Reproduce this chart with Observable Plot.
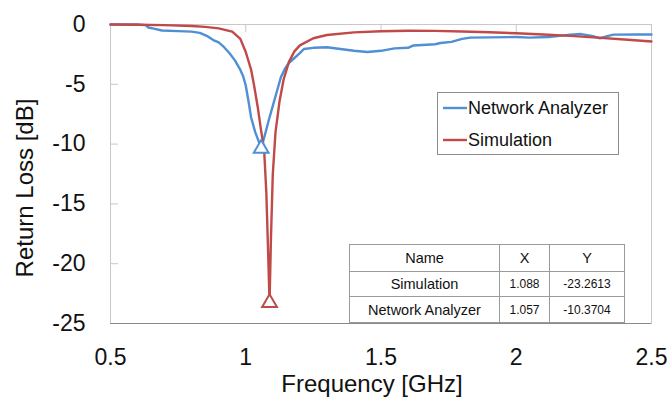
<!DOCTYPE html>
<html>
<head>
<meta charset="utf-8">
<script src="https://cdn.jsdelivr.net/npm/d3@7"></script>
<script src="https://cdn.jsdelivr.net/npm/@observablehq/plot@0.6"></script>
<style>
  html, body { margin: 0; padding: 0; background: #fff; }
  #wrap { position: relative; width: 670px; height: 399px; font-family: "Liberation Sans", Arial, sans-serif; }
  #tbl { position: absolute; left: 349px; top: 244px; border-collapse: collapse; background: #fff; }
  #tbl td { border: 1px solid #9a9a9a; text-align: center; padding: 0; color: #111; }
</style>
</head>
<body>
<div id="wrap"></div>
<script>
// ---- data ----
const xTicks = [0.5, 1, 1.5, 2, 2.5];
const yTicks = [0, -5, -10, -15, -20, -25];

const simFreq = [0.5, 0.6, 0.7, 0.8, 0.85, 0.9, 0.95, 0.98, 1.0, 1.02, 1.03, 1.045, 1.055, 1.068, 1.076, 1.082, 1.088, 1.093, 1.1, 1.11, 1.125, 1.14, 1.16, 1.18, 1.2, 1.25, 1.3, 1.4, 1.5, 1.6, 1.7, 1.8, 1.9, 2.0, 2.1, 2.2, 2.3, 2.4, 2.5];
const simRL   = [0, -0.02, -0.05, -0.12, -0.2, -0.32, -0.6, -1.2, -2.3, -3.8, -5.0, -7.0, -8.6, -10.5, -14.0, -18.5, -23.2613, -18.0, -12.5, -9.0, -6.4, -4.6, -3.1, -2.25, -1.75, -1.15, -0.88, -0.66, -0.56, -0.52, -0.53, -0.58, -0.65, -0.73, -0.83, -0.95, -1.1, -1.26, -1.42];

const naFreq = [0.5, 0.6, 0.63, 0.64, 0.66, 0.69, 0.75, 0.8, 0.83, 0.86, 0.88, 0.9, 0.92, 0.94, 0.96, 0.98, 0.99, 1.0, 1.01, 1.02, 1.035, 1.05, 1.057, 1.07, 1.085, 1.1, 1.115, 1.13, 1.145, 1.16, 1.18, 1.2, 1.215, 1.25, 1.3, 1.35, 1.4, 1.45, 1.5, 1.55, 1.6, 1.62, 1.7, 1.72, 1.76, 1.8, 1.83, 1.9, 2.0, 2.05, 2.12, 2.16, 2.2, 2.24, 2.28, 2.31, 2.34, 2.36, 2.45, 2.5];
const naRL   = [0, 0, -0.05, -0.25, -0.35, -0.5, -0.55, -0.6, -0.7, -1.0, -1.3, -1.5, -1.9, -2.4, -3.0, -3.8, -4.3, -5.1, -6.4, -7.8, -9.0, -9.9, -10.3704, -9.3, -8.0, -6.8, -5.6, -4.4, -3.7, -3.2, -2.8, -2.4, -2.05, -1.95, -1.9, -2.05, -2.2, -2.3, -2.2, -2.0, -1.95, -1.75, -1.65, -1.55, -1.45, -1.2, -1.1, -1.08, -1.05, -1.1, -1.05, -0.95, -0.85, -0.8, -0.95, -1.15, -0.95, -0.85, -0.83, -0.84];

const seriesNames = ["Network Analyzer", "Simulation"];
const markerNames = ["Simulation", "Network Analyzer"];
const markerX = [1.088, 1.057];
const markerY = [-23.2613, -10.3704];

// ---- styles ----
const BLUE = "#4f8fd4";
const RED = "#bf4a47";
const colorOf = {"Network Analyzer": BLUE, "Simulation": RED};
const FONT = "'Liberation Sans', Arial, sans-serif";

const sim = simFreq.map((f, i) => ({f, v: simRL[i]}));
const na = naFreq.map((f, i) => ({f, v: naRL[i]}));
const markers = markerNames.map((n, i) => ({name: n, f: markerX[i], v: markerY[i]}));

const W = 670, H = 399, mL = 110, mR = 19, mT = 24, mB = 76;
const pw = W - mL - mR, ph = H - mT - mB;

const chart = Plot.plot({
  width: W, height: H,
  marginLeft: mL, marginRight: mR, marginTop: mT, marginBottom: mB,
  style: {fontFamily: FONT, fontSize: "23px", color: "#111", background: "white", overflow: "visible"},
  x: {domain: [0.5, 2.5], ticks: xTicks, label: null},
  y: {domain: [-25, 0], ticks: yTicks, label: null},
  marks: [
    Plot.frame({stroke: "#c8c8c8"}),
    Plot.tickY(yTicks.slice(1, -1), {y: d => d, stroke: "#c8c8c8", insetRight: pw - 8}),
    Plot.tickX(xTicks.slice(1, -1), {x: d => d, stroke: "#c8c8c8", insetBottom: ph - 8}),
    Plot.ruleY([-25], {stroke: "#8a8a8a", strokeWidth: 1.2}),
    Plot.axisX(xTicks, {tickSize: 0, tickPadding: 25, fontSize: 23, tickFormat: d => String(d), label: null}),
    Plot.axisY(yTicks, {tickSize: 0, tickPadding: 25, fontSize: 23, tickFormat: d => String(d), label: null}),
    Plot.line(na, {x: "f", y: "v", stroke: BLUE, strokeWidth: 2.4}),
    Plot.line(sim, {x: "f", y: "v", stroke: RED, strokeWidth: 2.4}),
    Plot.dot(markers, {x: "f", y: "v", symbol: "triangle", r: 5.5, fill: "white", stroke: d => colorOf[d.name], strokeWidth: 2}),
    Plot.text(["Frequency [GHz]"], {frameAnchor: "bottom", text: d => d, dy: 61, dx: -9, fontSize: 24, fill: "#111", lineAnchor: "middle", textAnchor: "middle"}),
    Plot.text(["Return Loss [dB]"], {frameAnchor: "left", text: d => d, rotate: -90, dx: -85, dy: 14, fontSize: 24, fill: "#111", lineAnchor: "middle", textAnchor: "middle"})
  ]
});

document.getElementById("wrap").appendChild(chart);

const svg = d3.select(chart);

// ---- legend (boxed, inside plot) ----
const lg = svg.append("g").attr("font-family", FONT).attr("text-anchor", "start");
lg.append("rect").attr("x", 437.5).attr("y", 92.5).attr("width", 181).attr("height", 62)
  .attr("fill", "white").attr("stroke", "#8c8c8c").attr("stroke-width", 1);
seriesNames.forEach((n, i) => {
  const yy = 108 + i * 32;
  lg.append("line").attr("x1", 443).attr("x2", 467).attr("y1", yy).attr("y2", yy)
    .attr("stroke", colorOf[n]).attr("stroke-width", 2.4);
  lg.append("text").attr("x", 468).attr("y", yy).attr("dy", "0.35em")
    .attr("text-anchor", "start").style("font-size", "18px").attr("fill", "#111").text(n);
});

// ---- marker table ----
const tbl = document.createElement("table");
tbl.id = "tbl";
const colW = [150, 50, 75];
const rows = [["Name", "X", "Y"]].concat(markers.map(m => [m.name, m.f.toFixed(3), m.v.toFixed(4)]));
const rowH = [27, 25, 26];
rows.forEach((r, ri) => {
  const tr = document.createElement("tr");
  r.forEach((c, ci) => {
    const td = document.createElement("td");
    td.textContent = c;
    td.style.width = (colW[ci] - 1) + "px";
    td.style.height = (rowH[ri] - 1) + "px";
    td.style.fontSize = (ri === 0 || ci === 0) ? "14.5px" : "12px";
    tr.appendChild(td);
  });
  tbl.appendChild(tr);
});
document.getElementById("wrap").appendChild(tbl);
</script>
</body>
</html>
